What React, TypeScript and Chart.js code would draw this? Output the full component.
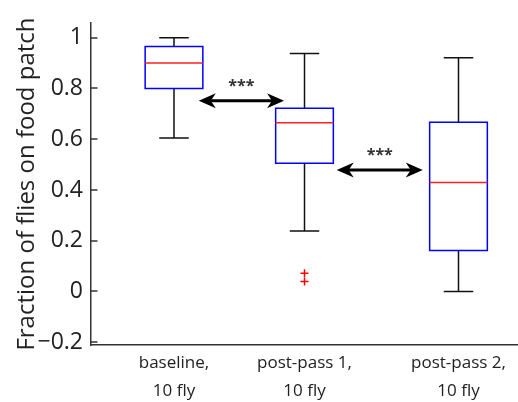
import React, { useEffect, useRef } from 'react';
import { Chart, registerables } from 'chart.js';

Chart.register(...registerables);

// ---- data ----
const categories: string[][] = [
  ['baseline,', '10 fly'],
  ['post-pass 1,', '10 fly'],
  ['post-pass 2,', '10 fly'],
];
const positions = [1, 2, 3.18];
const whiskerLow = [0.605, 0.238, 0.0];
const quartile1 = [0.8, 0.505, 0.161];
const medians = [0.9, 0.665, 0.429];
const quartile3 = [0.965, 0.722, 0.667];
const whiskerHigh = [1.0, 0.938, 0.921];
const outlierGroup = [1, 1];
const outlierValues = [0.072, 0.039];
const arrowFrom = [1.19, 2.247];
const arrowTo = [1.843, 2.906];
const arrowLevel = [0.752, 0.479];
const arrowText = ['***', '***'];
const yTicks = [-0.2, 0, 0.2, 0.4, 0.6, 0.8, 1];
const yTickLabels = ['\u22120.2', '0', '0.2', '0.4', '0.6', '0.8', '1'];
const yTitle = 'Fraction of flies on food patch';

const FONT = "'Open Sans', 'Noto Sans', sans-serif";

export default function App() {
  const ref = useRef<HTMLCanvasElement>(null);

  useEffect(() => {
    if (!ref.current) return;
    const BOX = 0.221;
    const CAP = 0.113;
    const gap = (x: number) => ({ x, y: null as any });
    const whiskers: any[] = [];
    const boxes: any[] = [];
    const meds: any[] = [];
    positions.forEach((p, i) => {
      whiskers.push(
        { x: p, y: quartile3[i] }, { x: p, y: whiskerHigh[i] }, gap(p),
        { x: p, y: quartile1[i] }, { x: p, y: whiskerLow[i] }, gap(p),
        { x: p - CAP, y: whiskerHigh[i] }, { x: p + CAP, y: whiskerHigh[i] }, gap(p),
        { x: p - CAP, y: whiskerLow[i] }, { x: p + CAP, y: whiskerLow[i] }, gap(p),
      );
      boxes.push(
        { x: p - BOX, y: quartile1[i] }, { x: p + BOX, y: quartile1[i] },
        { x: p + BOX, y: quartile3[i] }, { x: p - BOX, y: quartile3[i] },
        { x: p - BOX, y: quartile1[i] }, gap(p),
      );
      meds.push({ x: p - BOX, y: medians[i] }, { x: p + BOX, y: medians[i] }, gap(p));
    });
    const outliers = outlierValues.map((v, i) => ({ x: positions[outlierGroup[i]], y: v }));

    const overlay = {
      id: 'overlay',
      afterDatasetsDraw(chart: any) {
        const { ctx, chartArea } = chart;
        const xs = chart.scales.x;
        const ys = chart.scales.y;
        ctx.save();
        // inward tick marks (MATLAB style)
        ctx.strokeStyle = '#333';
        ctx.lineWidth = 1.5;
        ys.ticks.forEach((t: any) => {
          const py = Math.round(ys.getPixelForValue(t.value));
          ctx.beginPath();
          ctx.moveTo(chartArea.left, py);
          ctx.lineTo(chartArea.left + 6.5, py);
          ctx.stroke();
        });
        // double-headed arrows with labels
        const head = (tx: number, ty: number, dir: number) => {
          ctx.beginPath();
          ctx.moveTo(tx, ty);
          ctx.lineTo(tx - dir * 17, ty - 7.5);
          ctx.lineTo(tx - dir * 12, ty);
          ctx.lineTo(tx - dir * 17, ty + 7.5);
          ctx.closePath();
          ctx.fill();
        };
        arrowFrom.forEach((a, i) => {
          const py = ys.getPixelForValue(arrowLevel[i]);
          const x1 = xs.getPixelForValue(a);
          const x2 = xs.getPixelForValue(arrowTo[i]);
          ctx.strokeStyle = '#000';
          ctx.fillStyle = '#000';
          ctx.lineWidth = 3;
          ctx.beginPath();
          ctx.moveTo(x1 + 10, py);
          ctx.lineTo(x2 - 10, py);
          ctx.stroke();
          head(x1, py, -1);
          head(x2, py, 1);
          ctx.fillStyle = '#333';
          ctx.font = `bold 16px ${FONT}`;
          ctx.textAlign = 'center';
          ctx.textBaseline = 'middle';
          ctx.fillText(arrowText[i], (x1 + x2) / 2, py - 14);
        });
        ctx.restore();
      },
    };

    const chart = new Chart(ref.current, {
      type: 'scatter',
      data: {
        datasets: [
          { data: meds, showLine: true, borderColor: '#ff2020', borderWidth: 1.5, pointRadius: 0 },
          { data: boxes, showLine: true, borderColor: '#0000ff', borderWidth: 1.5, pointRadius: 0, borderCapStyle: 'square', borderJoinStyle: 'miter' },
          { data: outliers, showLine: false, pointStyle: 'cross', pointRadius: 4, borderColor: '#ff0000', backgroundColor: '#ff0000', pointBorderWidth: 1.5, borderWidth: 1.5 },
          { data: whiskers, showLine: true, borderColor: '#111', borderWidth: 1.5, pointRadius: 0 },
        ] as any,
      },
      options: {
        animation: false,
        responsive: false,
        events: [],
        layout: { padding: { top: 23, right: 20, left: 0, bottom: 0 } },
        plugins: { legend: { display: false }, tooltip: { enabled: false } },
        scales: {
          x: {
            type: 'linear',
            min: 0.364,
            max: 4.111,
            afterFit: (s: any) => { s.height = 57; },
            afterBuildTicks: (s: any) => { s.ticks = positions.map((v) => ({ value: v })); },
            grid: { display: true, drawOnChartArea: false, drawTicks: false },
            border: { display: true, color: '#333', width: 1.5 },
            ticks: {
              autoSkip: false,
              maxRotation: 0,
              minRotation: 0,
              padding: 5,
              color: '#222',
              font: { size: 17, family: FONT, lineHeight: 1.6 },
              callback: (_v: any, i: number) => categories[i],
            },
          },
          y: {
            type: 'linear',
            min: -0.211,
            max: 1.058,
            afterFit: (s: any) => { s.width = 91; },
            afterBuildTicks: (s: any) => { s.ticks = yTicks.map((v) => ({ value: v })); },
            grid: { display: true, drawOnChartArea: false, drawTicks: false },
            border: { display: true, color: '#333', width: 1.5 },
            ticks: {
              padding: 8,
              color: '#222',
              font: { size: 23, family: FONT },
              callback: (_v: any, i: number) => yTickLabels[i],
            },
            title: {
              display: true,
              text: yTitle,
              color: '#222',
              font: { size: 24, family: FONT, lineHeight: 1.2 },
              padding: { top: 13, bottom: 0 },
            },
          },
        },
      } as any,
      plugins: [overlay],
    });
    return () => chart.destroy();
  }, []);

  return (
    <div style={{ position: 'absolute', left: 0, top: 0, width: 518, height: 402, overflow: 'hidden', background: '#fff' }}>
      <canvas ref={ref} width={600} height={402} style={{ display: 'block', width: 600, height: 402 }} />
    </div>
  );
}
